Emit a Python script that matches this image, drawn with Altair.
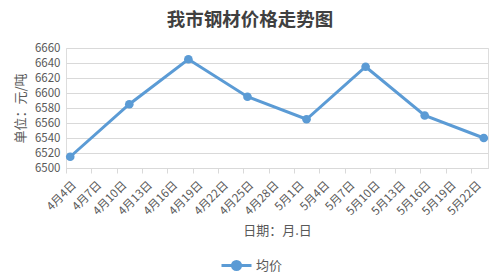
import altair as alt
import pandas as pd

# ---- data ----
dates = ["2024-04-04", "2024-04-11", "2024-04-18", "2024-04-25",
         "2024-05-02", "2024-05-09", "2024-05-16", "2024-05-23"]
prices = [6515, 6585, 6645, 6595, 6565, 6635, 6570, 6540]
series_name = "均价"
tick_labels = ["4月4日", "4月7日", "4月10日", "4月13日", "4月16日", "4月19日",
               "4月22日", "4月25日", "4月28日", "5月1日", "5月4日", "5月7日",
               "5月10日", "5月13日", "5月16日", "5月19日", "5月22日"]
y_ticks = [6500, 6520, 6540, 6560, 6580, 6600, 6620, 6640, 6660]
axis_start = "2024-04-04"
axis_end = "2024-05-24"
tick_step_days = 3

start = pd.Timestamp(axis_start)
span = (pd.Timestamp(axis_end) - start).days
df = pd.DataFrame({
    "date": dates,
    "price": prices,
    "series": series_name,
})
# Excel date axis: each point sits in the middle of its day slot
df["day"] = [(pd.Timestamp(d) - start).days + 0.5 for d in dates]

tick_values = [i * tick_step_days for i in range(len(tick_labels))]
label_arr = "[" + ",".join("'" + t + "'" for t in tick_labels) + "]"
label_expr = f"{label_arr}[round(datum.value / {tick_step_days})]"

FONT = "Noto Sans CJK SC"
TXT = "#595959"
BLUE = "#5B9BD5"

x = alt.X(
    "day:Q",
    scale=alt.Scale(domain=[0, span], nice=False, zero=False),
    axis=alt.Axis(
        values=tick_values, labelExpr=label_expr, labelAngle=-45,
        labelFont=FONT, labelFontSize=11.5, labelColor=TXT, labelPadding=6,
        labelAlign="right", labelBaseline="top", labelOffset=4,
        grid=False, domainColor="#D9D9D9", tickColor="#D9D9D9", tickSize=5,
        title="日期：月.日", titleFont=FONT, titleFontSize=13, titleFontWeight="normal",
        titleColor=TXT, titleX=211, titleY=62, titleBaseline="middle",
        labelOverlap=False,
    ),
)
y = alt.Y(
    "price:Q",
    scale=alt.Scale(domain=[y_ticks[0], y_ticks[-1]], nice=False, zero=False),
    axis=alt.Axis(
        values=y_ticks, format="d", labelFont=FONT, labelFontSize=11.5, labelColor=TXT,
        labelPadding=6, domain=False, ticks=False, gridColor="#D9D9D9",
        title="单位：元/吨", titleFont=FONT, titleFontSize=13, titleFontWeight="normal",
        titleColor=TXT, titleAngle=-90, titleX=-46, titleY=60,
        titleAlign="center", titleBaseline="middle",
    ),
)
color = alt.Color(
    "series:N",
    scale=alt.Scale(range=[BLUE]),
    legend=alt.Legend(
        title=None, orient="none", legendX=154, legendY=201, padding=0,
        symbolType="M-1,0L1,0M-0.27,0A0.27,0.27,0,1,0,0.27,0A0.27,0.27,0,1,0,-0.27,0",
        symbolSize=900, symbolStrokeWidth=3, symbolFillColor=BLUE,
        symbolStrokeColor=BLUE,
        labelFont=FONT, labelFontSize=13, labelColor=TXT, labelOffset=3,
    ),
)

chart = alt.Chart(df).mark_line(
    strokeWidth=3,
    point=alt.OverlayMarkDef(size=75, filled=True, opacity=1, color=BLUE),
).encode(x=x, y=y, color=color).properties(
    width=422, height=120,
    title=alt.TitleParams(
        "我市钢材价格走势图", font=FONT, fontSize=18.5, fontWeight="bold",
        color="#404040", anchor="middle", dx=-27, dy=9, offset=22,
    ),
    autosize=alt.AutoSizeParams(type="none"),
    padding={"left": 66, "top": 48, "right": 13, "bottom": 112},
).configure_view(stroke=None).configure(background="white")

chart.save("out.html", embed_options={"renderer": "svg", "actions": False})
